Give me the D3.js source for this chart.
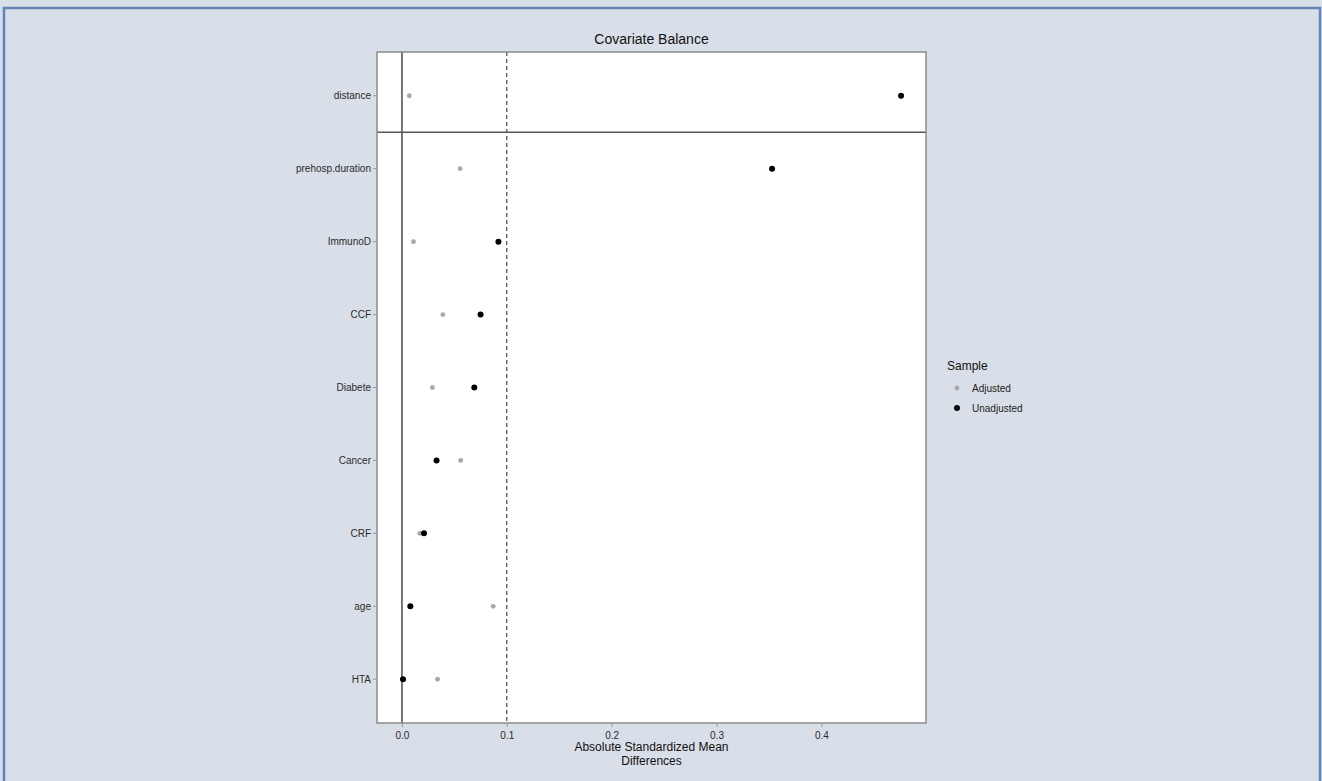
<!DOCTYPE html>
<html>
<head>
<meta charset="utf-8">
<script src="https://cdn.jsdelivr.net/npm/d3@7"></script>
<style>
  html, body { margin: 0; padding: 0; background: #d9dfe8; }
  svg { display: block; font-family: "Liberation Sans", Arial, Helvetica, sans-serif; }
</style>
</head>
<body>
<div id="chart"></div>
<script>
// covariates, top to bottom
var covariates = ['distance', 'prehosp.duration', 'ImmunoD', 'CCF', 'Diabete', 'Cancer', 'CRF', 'age', 'HTA'];
var adjusted   = [0.007, 0.0555, 0.011, 0.039, 0.029, 0.056, 0.017, 0.087, 0.034];
var unadjusted = [0.476, 0.353, 0.092, 0.075, 0.069, 0.033, 0.021, 0.008, 0.001];
var xTicks = [0.0, 0.1, 0.2, 0.3, 0.4];
var threshold = 0.1;
var samples = ['Adjusted', 'Unadjusted'];
var sampleColors = ['#a8a8a8', '#000000'];

var W = 1322, H = 781;
var m = {left: 377, top: 52, right: 926, bottom: 723};

var svg = d3.select('#chart').append('svg').attr('width', W).attr('height', H);

// background + outer blue frame (left, top, right)
svg.append('rect').attr('width', W).attr('height', H).attr('fill', '#d9dfe8');
svg.append('path').attr('d', 'M4,' + (H + 5) + 'V8H1320V' + (H + 5))
    .attr('fill', 'none').attr('stroke', '#6585b8').attr('stroke-width', 2.5);

var maxV = d3.max(unadjusted.concat(adjusted));
var x = d3.scaleLinear().domain([-0.05 * maxV, 1.05 * maxV]).range([m.left, m.right]);
// discrete axis, ggplot style expansion of 0.6 units
var y = d3.scaleLinear().domain([0.4, covariates.length + 0.6]).range([m.top, m.bottom]);
function yPos(i) { return y(i + 1); }

svg.append('rect').attr('x', m.left).attr('y', m.top)
    .attr('width', m.right - m.left).attr('height', m.bottom - m.top)
    .attr('fill', '#fff');

// zero line and threshold
svg.append('line').attr('x1', x(0)).attr('x2', x(0)).attr('y1', m.top).attr('y2', m.bottom)
    .attr('stroke', '#555').attr('stroke-width', 1.6);
svg.append('line').attr('x1', x(threshold)).attr('x2', x(threshold)).attr('y1', m.top).attr('y2', m.bottom)
    .attr('stroke', '#222').attr('stroke-width', 1).attr('stroke-dasharray', '4,3');
// separator below distance
svg.append('line').attr('x1', m.left).attr('x2', m.right)
    .attr('y1', y(1.5)).attr('y2', y(1.5))
    .attr('stroke', '#555').attr('stroke-width', 1.4);

// points
var pts = [];
covariates.forEach(function(c, i) {
    pts.push({i: i, v: adjusted[i], s: 0});
    pts.push({i: i, v: unadjusted[i], s: 1});
});
svg.append('g').selectAll('circle').data(pts).join('circle')
    .attr('cx', function(d) { return x(d.v); })
    .attr('cy', function(d) { return yPos(d.i); })
    .attr('r', function(d) { return d.s ? 3 : 2.4; })
    .attr('fill', function(d) { return sampleColors[d.s]; });

// panel border
svg.append('rect').attr('x', m.left).attr('y', m.top)
    .attr('width', m.right - m.left).attr('height', m.bottom - m.top)
    .attr('fill', 'none').attr('stroke', '#8a8a8a').attr('stroke-width', 1.5);

// y axis
var yg = svg.append('g');
covariates.forEach(function(c, i) {
    yg.append('line').attr('x1', m.left - 4).attr('x2', m.left).attr('y1', yPos(i)).attr('y2', yPos(i))
        .attr('stroke', '#999').attr('stroke-width', 1);
    yg.append('text').attr('x', m.left - 6).attr('y', yPos(i)).attr('dy', '0.35em')
        .attr('text-anchor', 'end').attr('font-size', '10px').attr('fill', '#2a2a2a').text(c);
});

// x axis
var xAxis = d3.axisBottom(x).tickValues(xTicks).tickSize(4).tickPadding(5).tickFormat(d3.format('.1f'));
var xg = svg.append('g').attr('transform', 'translate(0,' + m.bottom + ')').call(xAxis);
xg.select('.domain').remove();
xg.selectAll('.tick line').attr('stroke', '#999');
xg.selectAll('.tick text').attr('font-size', '10px').attr('fill', '#2a2a2a')
    .attr('font-family', '"Liberation Sans", Arial, sans-serif');

var cx = (m.left + m.right) / 2;
svg.append('text').attr('x', cx).attr('y', 751).attr('text-anchor', 'middle')
    .attr('font-size', '12px').attr('fill', '#111').text('Absolute Standardized Mean');
svg.append('text').attr('x', cx).attr('y', 765).attr('text-anchor', 'middle')
    .attr('font-size', '12px').attr('fill', '#111').text('Differences');

svg.append('text').attr('x', cx).attr('y', 44).attr('text-anchor', 'middle')
    .attr('font-size', '14px').attr('fill', '#111').text('Covariate Balance');

// legend
var lg = svg.append('g').attr('transform', 'translate(947,366)');
lg.append('text').attr('x', 0).attr('y', 4).attr('font-size', '12px').attr('fill', '#111').text('Sample');
samples.forEach(function(s, i) {
    lg.append('circle').attr('cx', 10).attr('cy', 22 + i * 20).attr('r', i ? 3 : 2.4).attr('fill', sampleColors[i]);
    lg.append('text').attr('x', 25).attr('y', 22 + i * 20).attr('dy', '0.35em')
        .attr('font-size', '10px').attr('fill', '#222').text(s);
});
</script>
</body>
</html>
